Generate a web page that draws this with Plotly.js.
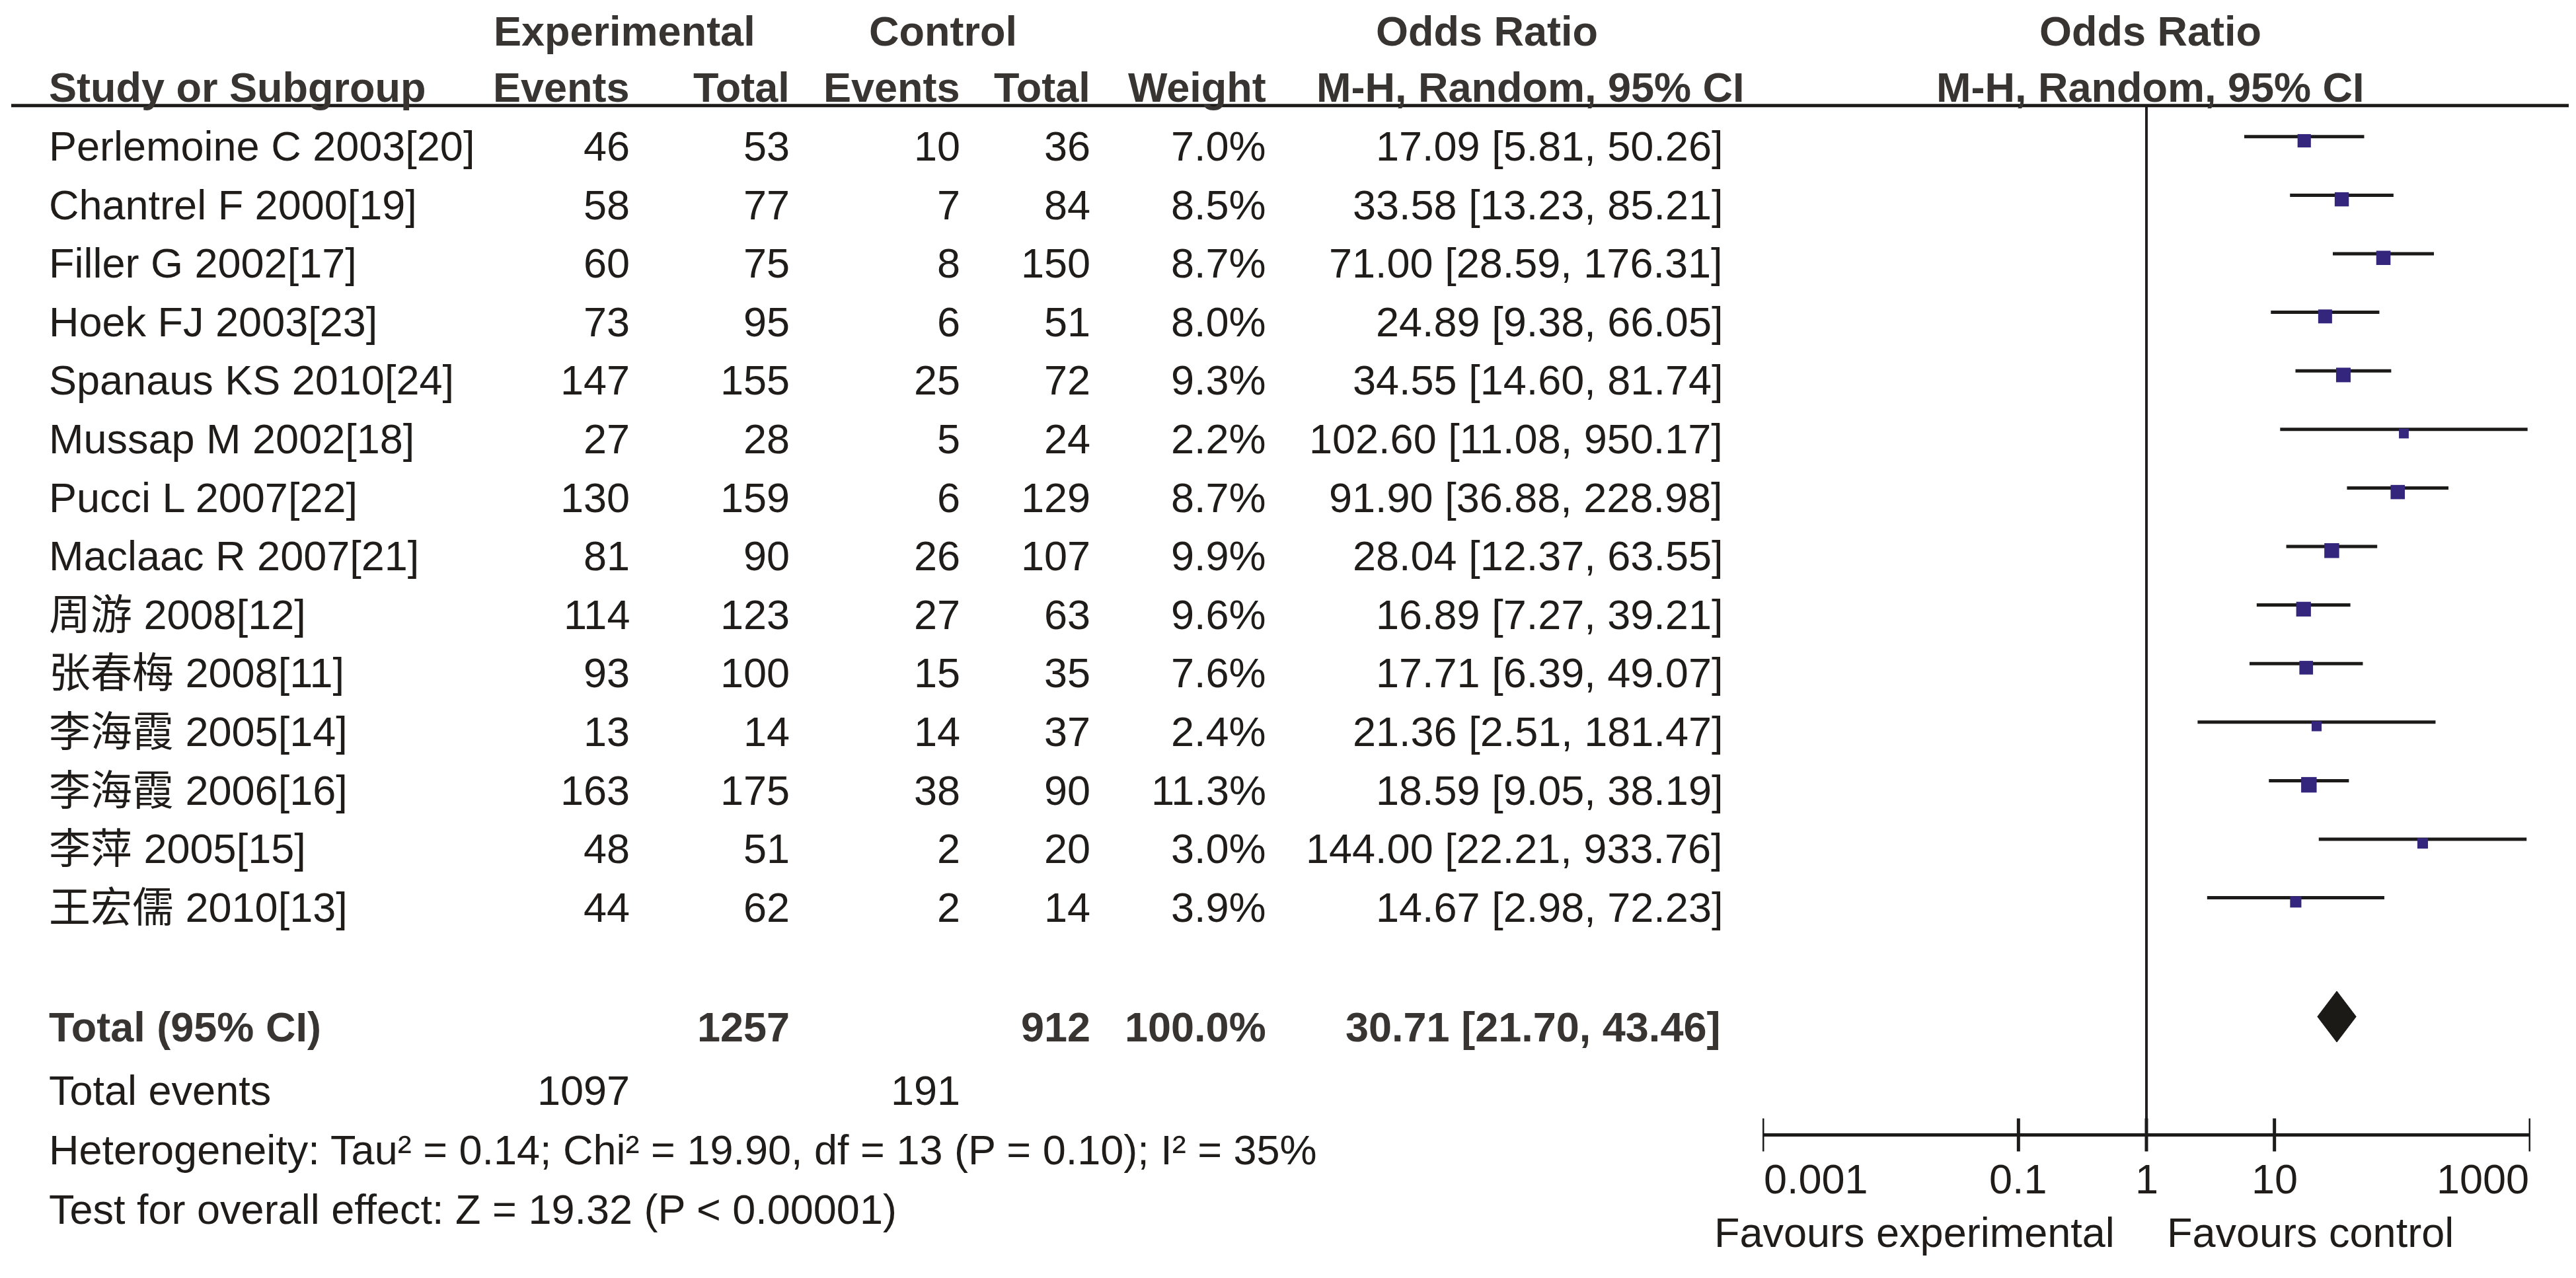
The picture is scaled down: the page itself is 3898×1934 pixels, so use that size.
<!DOCTYPE html>
<html>
<head>
<meta charset="utf-8">
<script src="https://cdn.plot.ly/plotly-3.0.1.min.js"></script>
<style>html,body{margin:0;padding:0;background:#fff;}#chart{width:3898px;height:1934px;}</style>
</head>
<body>
<div id="chart"></div>
<script>
// ---------------- DATA ----------------
const studies = ["Perlemoine C 2003[20]", "Chantrel F 2000[19]", "Filler G 2002[17]", "Hoek FJ 2003[23]",
  "Spanaus KS 2010[24]", "Mussap M 2002[18]", "Pucci L 2007[22]", "Maclaac R 2007[21]",
  "周游 2008[12]", "张春梅 2008[11]", "李海霞 2005[14]", "李海霞 2006[16]", "李萍 2005[15]", "王宏儒 2010[13]"];
const expEvents = [46, 58, 60, 73, 147, 27, 130, 81, 114, 93, 13, 163, 48, 44];
const expTotal  = [53, 77, 75, 95, 155, 28, 159, 90, 123, 100, 14, 175, 51, 62];
const ctlEvents = [10, 7, 8, 6, 25, 5, 6, 26, 27, 15, 14, 38, 2, 2];
const ctlTotal  = [36, 84, 150, 51, 72, 24, 129, 107, 63, 35, 37, 90, 20, 14];
const weights   = [7.0, 8.5, 8.7, 8.0, 9.3, 2.2, 8.7, 9.9, 9.6, 7.6, 2.4, 11.3, 3.0, 3.9];
const orEst  = [17.09, 33.58, 71.00, 24.89, 34.55, 102.60, 91.90, 28.04, 16.89, 17.71, 21.36, 18.59, 144.00, 14.67];
const orLow  = [5.81, 13.23, 28.59, 9.38, 14.60, 11.08, 36.88, 12.37, 7.27, 6.39, 2.51, 9.05, 22.21, 2.98];
const orHigh = [50.26, 85.21, 176.31, 66.05, 81.74, 950.17, 228.98, 63.55, 39.21, 49.07, 181.47, 38.19, 933.76, 72.23];

const totalLabel = "Total (95% CI)";
const totalExpN = 1257, totalCtlN = 912, totalWeight = 100.0;
const totalOR = 30.71, totalLow = 21.70, totalHigh = 43.46;
const totalEventsLabel = "Total events";
const totalExpEvents = 1097, totalCtlEvents = 191;
const heterogeneityText = "Heterogeneity: Tau² = 0.14; Chi² = 19.90, df = 13 (P = 0.10); I² = 35%";
const overallText = "Test for overall effect: Z = 19.32 (P < 0.00001)";

const groupHeaders = ["Experimental", "Control", "Odds Ratio", "Odds Ratio"];
const colHeaders = ["Study or Subgroup", "Events", "Total", "Events", "Total", "Weight", "M-H, Random, 95% CI", "M-H, Random, 95% CI"];
const axisTicks = [0.001, 0.1, 1, 10, 1000];
const axisTickLabels = ["0.001", "0.1", "1", "10", "1000"];
const favourLabels = ["Favours experimental", "Favours control"];

// ---------------- LAYOUT CONSTANTS ----------------
const W = 3898, H = 1934;
const ROW0_PX = 221, ROW_PX = 88.6;            // pixel of row 1 text middle, row pitch
const Y_TOP = 1 - ROW0_PX / ROW_PX;
const Y_BOTTOM = Y_TOP + H / ROW_PX;
const FONT = "Liberation Sans, Arial, Noto Sans CJK SC, sans-serif";
const FS = 63;
const TXT = "#1f1c1a", BOLD = "#383432";
const SQ = "#33267c";
// column anchor positions (pixels on x axis)
const C = {name: 72, expEv: 955, expTot: 1197, ctlEv: 1455, ctlTot: 1652, wt: 1918, orTxt: 2609,
           expHead: 945, ctlHead: 1427, orHead: 2250, orHeadSub: 2316, plotHead: 3254};
// row positions (row units)
const R = {group: -0.96, head: -0.01, headLine: 0.31, total: 16.05, totEv: 17.13, het: 18.15, test: 19.16,
           axis: 17.89, tickHalf: 0.282, tickLbl: 18.64, fav: 19.56,
           ciOff: -0.16, sqOff: -0.09, diamond: 15.87, diamondHalf: 0.435};

const ann = [];
function t(text, x, y, anchor, bold, xref, extra) {
  ann.push(Object.assign({
    text: bold ? "<b>" + text + "</b>" : text, x: x, y: y, xref: xref || "x", yref: "y",
    xanchor: anchor, yanchor: "middle", showarrow: false,
    font: {family: FONT, size: FS, color: bold ? BOLD : TXT}
  }, extra || {}));
}

// headers
t(groupHeaders[0], C.expHead, R.group, "center", true);
t(groupHeaders[1], C.ctlHead, R.group, "center", true);
t(groupHeaders[2], C.orHead, R.group, "center", true);
t(colHeaders[0], C.name, R.head, "left", true);
t(colHeaders[1], C.expEv, R.head, "right", true);
t(colHeaders[2], C.expTot, R.head, "right", true);
t(colHeaders[3], C.ctlEv, R.head, "right", true);
t(colHeaders[4], C.ctlTot, R.head, "right", true);
t(colHeaders[5], C.wt, R.head, "right", true);
t(colHeaders[6], C.orHeadSub, R.head, "center", true);
t(groupHeaders[3], C.plotHead, R.group, "center", true);
t(colHeaders[7], C.plotHead, R.head, "center", true);

// study rows
studies.forEach((s, i) => {
  const r = i + 1;
  t(s, C.name, r, "left");
  t(String(expEvents[i]), C.expEv, r, "right");
  t(String(expTotal[i]), C.expTot, r, "right");
  t(String(ctlEvents[i]), C.ctlEv, r, "right");
  t(String(ctlTotal[i]), C.ctlTot, r, "right");
  t(weights[i].toFixed(1) + "%", C.wt, r, "right");
  t(orEst[i].toFixed(2) + " [" + orLow[i].toFixed(2) + ", " + orHigh[i].toFixed(2) + "]", C.orTxt, r, "right");
});

// totals
t(totalLabel, C.name, R.total, "left", true);
t(String(totalExpN), C.expTot, R.total, "right", true);
t(String(totalCtlN), C.ctlTot, R.total, "right", true);
t(totalWeight.toFixed(1) + "%", C.wt, R.total, "right", true);
t(totalOR.toFixed(2) + " [" + totalLow.toFixed(2) + ", " + totalHigh.toFixed(2) + "]", C.orTxt - 4, R.total, "right", true);
t(totalEventsLabel, C.name, R.totEv, "left");
t(String(totalExpEvents), C.expEv, R.totEv, "right");
t(String(totalCtlEvents), C.ctlEv, R.totEv, "right");
t(heterogeneityText, C.name, R.het, "left");
t(overallText, C.name, R.test, "left");

// axis tick labels (log axis: annotation x in log10 units)
axisTicks.forEach((v, i) => {
  const anchor = i === 0 ? "left" : (i === axisTicks.length - 1 ? "right" : "center");
  t(axisTickLabels[i], Math.log10(v), R.tickLbl, anchor, false, "x2");
});
t(favourLabels[0], 0, R.fav, "right", false, "x2", {xshift: -46});
t(favourLabels[1], 0, R.fav, "left", false, "x2", {xshift: 29});

// ---------------- TRACES ----------------
const traces = [];
// invisible anchor trace for the table axis
traces.push({x: [0], y: [0], xaxis: "x", yaxis: "y", mode: "markers", marker: {opacity: 0}, hoverinfo: "skip"});

// CI lines
const ciX = [], ciY = [];
studies.forEach((s, i) => { ciX.push(orLow[i], orHigh[i], null); ciY.push(i + 1 + R.ciOff, i + 1 + R.ciOff, null); });
traces.push({x: ciX, y: ciY, xaxis: "x2", yaxis: "y", mode: "lines", line: {color: "#1c1b1a", width: 5}, hoverinfo: "skip", cliponaxis: false});

// squares (size grows with weight)
traces.push({x: orEst, y: studies.map((s, i) => i + 1 + R.sqOff), xaxis: "x2", yaxis: "y", mode: "markers",
  marker: {symbol: "square", color: SQ, opacity: 1, size: weights.map(w => 8 + 4.6 * Math.sqrt(w)), line: {width: 0}},
  hoverinfo: "skip", cliponaxis: false});

// diamond
traces.push({x: [totalLow, totalOR, totalHigh, totalOR, totalLow],
  y: [R.diamond, R.diamond - R.diamondHalf, R.diamond, R.diamond + R.diamondHalf, R.diamond],
  xaxis: "x2", yaxis: "y", mode: "lines", fill: "toself", fillcolor: "#1c1a17",
  line: {color: "#1c1a17", width: 1}, hoverinfo: "skip", cliponaxis: false});

// line of no effect (OR = 1)
const nullTick = axisTicks[2];
traces.push({x: [nullTick, nullTick], y: [R.headLine, R.axis], xaxis: "x2", yaxis: "y", mode: "lines",
  line: {color: "#231f20", width: 4}, hoverinfo: "skip", cliponaxis: false});

// axis line
traces.push({x: [axisTicks[0], axisTicks[axisTicks.length - 1]], y: [R.axis, R.axis], xaxis: "x2", yaxis: "y",
  mode: "lines", line: {color: "#1c1b1a", width: 5}, hoverinfo: "skip", cliponaxis: false});
// ticks (crossing the axis)
const tkX = [], tkY = [];
axisTicks.forEach(v => { tkX.push(v, v, null); tkY.push(R.axis - R.tickHalf, R.axis + R.tickHalf, null); });
traces.push({x: tkX, y: tkY, xaxis: "x2", yaxis: "y", mode: "lines", line: {color: "#1c1b1a", width: 5},
  hoverinfo: "skip", cliponaxis: false});

const layout = {
  width: W, height: H, margin: {l: 0, r: 0, t: 0, b: 0, pad: 0},
  paper_bgcolor: "#ffffff", plot_bgcolor: "rgba(0,0,0,0)", showlegend: false,
  xaxis: {range: [0, W], domain: [0, 1], visible: false, fixedrange: true},
  xaxis2: {type: "log", range: [Math.log10(axisTicks[0]), Math.log10(axisTicks[axisTicks.length - 1])],
           domain: [2667 / W, 3829 / W], anchor: "y", visible: false, fixedrange: true},
  yaxis: {range: [Y_BOTTOM, Y_TOP], domain: [0, 1], visible: false, fixedrange: true},
  shapes: [{type: "line", xref: "paper", yref: "y", x0: 17 / W, x1: 3887 / W, y0: R.headLine, y1: R.headLine,
            line: {color: "#1c1b1a", width: 5}}],
  annotations: ann
};

Plotly.newPlot("chart", traces, layout, {staticPlot: true, displayModeBar: false});
</script>
</body>
</html>
